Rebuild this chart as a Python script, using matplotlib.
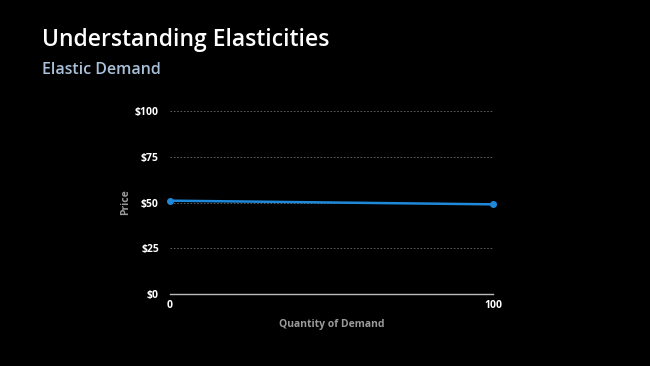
import matplotlib.pyplot as plt

# data
quantity = [0, 100]
price = [51, 49]
y_ticks = [0, 25, 50, 75, 100]
y_tick_labels = ['$0', '$25', '$50', '$75', '$100']
x_ticks = [0, 100]

plt.rcParams['font.family'] = ['Open Sans', 'DejaVu Sans']

fig = plt.figure(figsize=(6.5, 3.66), dpi=100, facecolor='black')
ax = fig.add_axes([0.2615, 0.1967, 0.497, 0.5])
ax.set_facecolor('black')

ax.plot(quantity, price, color='#1f88d8', linewidth=1.8, marker='o', markersize=4,
        zorder=3, clip_on=False)

ax.set_xlim(0, 100)
ax.set_ylim(0, 100)
ax.set_yticks(y_ticks)
ax.set_yticklabels(y_tick_labels)
ax.set_xticks(x_ticks)

ax.grid(axis='y', color='#6a6a6a', linestyle=(0, (2, 2)), linewidth=0.6)
ax.grid(axis='x', visible=False)
for s in ['top', 'right', 'left']:
    ax.spines[s].set_visible(False)
ax.spines['bottom'].set_color('#bbbbbb')
ax.spines['bottom'].set_linewidth(1)
ax.spines['bottom'].set_zorder(4)

ax.tick_params(axis='both', length=0, colors='white', labelsize=7.5)
ax.tick_params(axis='y', pad=8)
ax.tick_params(axis='x', pad=4)
for lbl in ax.get_xticklabels() + ax.get_yticklabels():
    lbl.set_fontweight('bold')

ax.set_ylabel('Price', color='#9a9a9a', fontsize=7.5, fontweight='bold', labelpad=3)
ax.set_xlabel('Quantity of Demand', color='#9a9a9a', fontsize=7.5, fontweight='bold',
              labelpad=6)

fig.text(42 / 650, 1 - 40 / 366, 'Understanding Elasticities', color='white',
         fontsize=16.5, fontweight='semibold', va='center', ha='left')
fig.text(42 / 650, 1 - 70 / 366, 'Elastic Demand', color='#a9c0d8',
         fontsize=11.5, fontweight='semibold', va='center', ha='left')

fig.savefig('out.png', dpi=100, facecolor='black')
